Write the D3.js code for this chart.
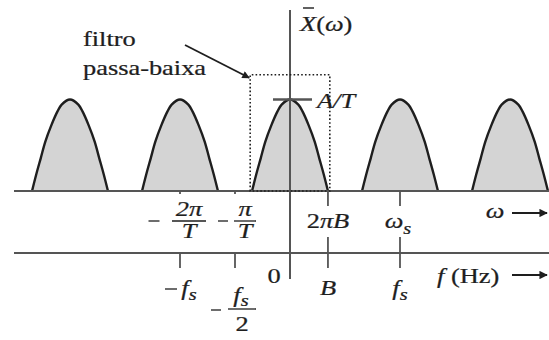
<!DOCTYPE html>
<html><head><meta charset="utf-8">
<script src="https://cdn.jsdelivr.net/npm/d3@7"></script>
</head><body style="margin:0;background:#fff">
<svg id="c" width="549" height="340"></svg>
<script>
// Replica centres of the sampled spectrum, in multiples of the sampling frequency ω_s
const replicaCentres = [-2, -1, 0, 1, 2];
// Shape of one replica: offset from its centre (in units of 2πB) and height (in units of A/T)
const profileOffsets = [0, 0.22, 0.33, 0.49, 0.65, 0.77, 0.89, 1.0];
const profileHeights = [1, 0.945, 0.87, 0.72, 0.54, 0.36, 0.18, 0];
// 2πB relative to ω_s
const bandEdge = 0.345;
// Ideal low-pass filter: cutoff (relative to ω_s) and gain (relative to A/T)
const filterCutoff = 0.362;
const filterGain = 1.27;
// Tick positions (relative to ω_s)
const omegaTicks = [bandEdge, 1];
const omegaNegTicks = [-1, -0.5];
const freqTicks = [-1, -0.5, bandEdge, 1];

const svg = d3.select("#c");
const x = d3.scaleLinear().domain([0, 1]).range([290, 400]);
const y = d3.scaleLinear().domain([0, 1]).range([191, 99.5]);
const yF = 253; // frequency axis row
const ink = "#1e1e1e", axisInk = "#555";
const SERIF = "'Liberation Serif'";
const FS = 22, SUB = 17, SX = 1.2; // type size, subscript size, horizontal type stretch

// spectrum replicas
const pts = [];
for (let i = profileOffsets.length - 1; i >= 0; i--) pts.push([-profileOffsets[i], profileHeights[i]]);
for (let i = 1; i < profileOffsets.length; i++) pts.push([profileOffsets[i], profileHeights[i]]);
const line = d3.line().curve(d3.curveCatmullRom.alpha(0.5));
replicaCentres.forEach(c => {
  const p = pts.map(([u, h]) => [x(c + u * bandEdge), y(h)]);
  svg.append("path").attr("d", line(p) + "Z").attr("fill", "#d4d4d4").attr("stroke", "none");
  svg.append("path").attr("d", line(p)).attr("fill", "none").attr("stroke", ink).attr("stroke-width", 2.4);
});

// ω axis and f axis
svg.append("line").attr("x1", 14).attr("x2", 549).attr("y1", y(0)).attr("y2", y(0))
  .attr("stroke", axisInk).attr("stroke-width", 2.2);
svg.append("line").attr("x1", 14).attr("x2", 549).attr("y1", yF).attr("y2", yF)
  .attr("stroke", axisInk).attr("stroke-width", 2.2);
// vertical axis
svg.append("line").attr("x1", x(0)).attr("x2", x(0)).attr("y1", 10).attr("y2", 279)
  .attr("stroke", axisInk).attr("stroke-width", 2);

// ideal low-pass filter (dotted)
svg.append("path")
  .attr("d", `M${x(-filterCutoff)},${y(0)}V${y(filterGain)}H${x(filterCutoff)}V${y(0)}Z`)
  .attr("fill", "none").attr("stroke", ink).attr("stroke-width", 1.6).attr("stroke-dasharray", "1.6,2.2");

// A/T marker
svg.append("line").attr("x1", x(0) - 17).attr("x2", x(0) + 22).attr("y1", y(1)).attr("y2", y(1))
  .attr("stroke", axisInk).attr("stroke-width", 2.4);

// ticks on ω axis
omegaTicks.forEach(t => svg.append("line").attr("x1", x(t)).attr("x2", x(t)).attr("y1", y(0)).attr("y2", y(0) + 15)
  .attr("stroke", axisInk).attr("stroke-width", 1.8));
omegaNegTicks.forEach(t => svg.append("line").attr("x1", x(t)).attr("x2", x(t)).attr("y1", y(0)).attr("y2", y(0) + 3)
  .attr("stroke", axisInk).attr("stroke-width", 1.8));
// ticks on f axis
freqTicks.forEach(t => svg.append("line").attr("x1", x(t)).attr("x2", x(t))
  .attr("y1", t > 0 ? yF - 16 : yF).attr("y2", yF + 15)
  .attr("stroke", axisInk).attr("stroke-width", 1.8));

// arrowheads
const defs = svg.append("defs");
defs.append("marker").attr("id", "ah").attr("viewBox", "0 0 10 10").attr("refX", 9).attr("refY", 5)
  .attr("markerWidth", 6.5).attr("markerHeight", 4.2).attr("orient", "auto").attr("markerUnits", "strokeWidth")
  .append("path").attr("d", "M0,0L10,5L0,10Z").attr("fill", ink);

// text helpers
function txt(xp, yp, s, opt = {}) {
  return svg.append("text").attr("x", 0).attr("y", 0)
    .attr("transform", `translate(${xp},${yp}) scale(${SX},1)`)
    .attr("text-anchor", opt.anchor || "middle")
    .style("font-family", SERIF).style("font-size", (opt.size || FS) + "px")
    .style("font-style", opt.it ? "italic" : "normal").style("fill", ink)
    .style("stroke", ink).style("stroke-width", 0.25).text(s);
}
function it(sel, s) { return sel.append("tspan").style("font-style", "italic").text(s); }
function rm(sel, s) { return sel.append("tspan").style("font-style", "normal").text(s); }
function sub(sel, s, dy) { return sel.append("tspan").attr("dy", dy).style("font-style", "italic").style("font-size", SUB + "px").text(s); }
function bar(xc, yc, w) {
  svg.append("line").attr("x1", xc - w / 2).attr("x2", xc + w / 2).attr("y1", yc).attr("y2", yc)
    .attr("stroke", ink).attr("stroke-width", 1.3);
}

// ω-axis labels: −2π/T, −π/T, 2πB, ω_s
bar(154, 221, 11);
txt(189, 216, "2π", { it: true });
bar(189, 221, 34);
txt(189, 238, "T", { it: true });
bar(223, 221, 10);
txt(245, 216, "π", { it: true });
bar(245, 221, 22);
txt(245, 238, "T", { it: true });
const t2 = txt(x(bandEdge), 228, "");
rm(t2, "2"); it(t2, "πB");
const ws = txt(x(1) - 2, 228, "", { it: true });
it(ws, "ω"); sub(ws, "s", 6);
txt(495, 218, "ω", { it: true });
svg.append("line").attr("x1", 512).attr("x2", 547).attr("y1", 213).attr("y2", 213)
  .attr("stroke", ink).attr("stroke-width", 2).attr("marker-end", "url(#ah)");

// f-axis labels: 0, B, f_s, −f_s, −f_s/2, f (Hz)
txt(x(0) - 16, 283, "0");
txt(x(bandEdge), 295, "B", { it: true });
const fs = txt(x(1), 295, "", { it: true });
it(fs, "f"); sub(fs, "s", 5);
bar(171, 289, 12);
const mfs = txt(189, 295, "", { it: true });
it(mfs, "f"); sub(mfs, "s", 5);
bar(216, 310, 10);
const hf = txt(241, 302, "", { it: true });
it(hf, "f"); sub(hf, "s", 4);
bar(242, 309, 28);
txt(242, 331, "2");
const fh = txt(437, 283, "", { anchor: "start" });
it(fh, "f"); rm(fh, " (Hz)");
svg.append("line").attr("x1", 512).attr("x2", 547).attr("y1", 275).attr("y2", 275)
  .attr("stroke", ink).attr("stroke-width", 2).attr("marker-end", "url(#ah)");

// vertical axis labels
const xl = txt(300, 31, "", { anchor: "start" });
it(xl, "X"); rm(xl, "("); it(xl, "ω"); rm(xl, ")");
svg.append("line").attr("x1", 303).attr("x2", 314).attr("y1", 8).attr("y2", 8)
  .attr("stroke", ink).attr("stroke-width", 1.4);
txt(x(0) + 27, y(1) + 8, "A/T", { anchor: "start", it: true });

// filter annotation
txt(83, 46, "filtro", { anchor: "start" });
txt(83, 75, "passa-baixa", { anchor: "start" });
svg.append("line").attr("x1", 185).attr("y1", 45).attr("x2", x(-filterCutoff) - 1).attr("y2", y(filterGain) + 3)
  .attr("stroke", ink).attr("stroke-width", 1.8).attr("marker-end", "url(#ah)");
</script>
</body></html>
